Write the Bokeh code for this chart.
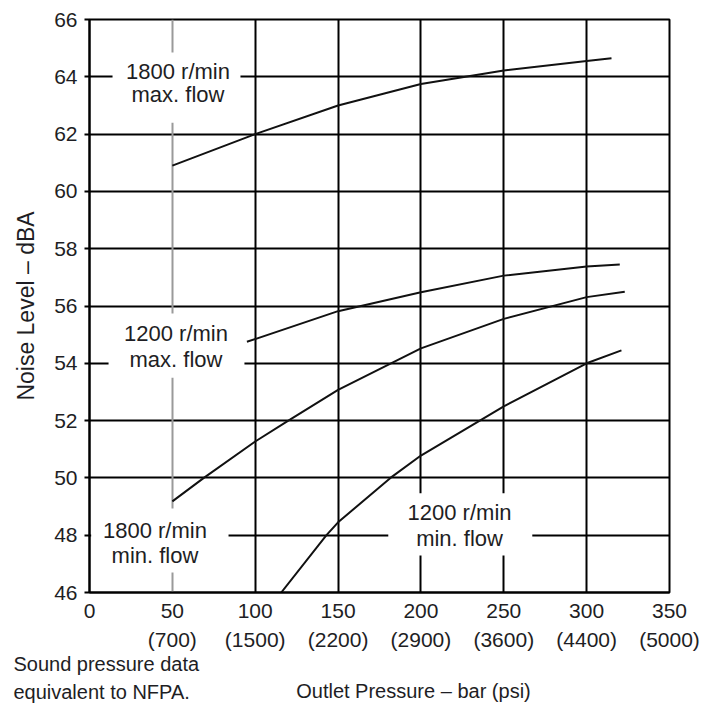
from bokeh.plotting import figure
from bokeh.models import FixedTicker, Grid, Range1d
from bokeh.core.properties import value
from bokeh.embed import file_html
from bokeh.resources import INLINE

# ---------------- data ----------------
bar_ticks = [0, 50, 100, 150, 200, 250, 300, 350]
psi_labels = ["", "(700)", "(1500)", "(2200)", "(2900)", "(3600)", "(4400)", "(5000)"]
dba_ticks = [46, 48, 50, 52, 54, 56, 58, 60, 62, 64, 66]

rpm1800_max_bar = [50, 100, 150, 200, 250, 300, 315]
rpm1800_max_dba = [60.9, 62.0, 63.0, 63.75, 64.22, 64.55, 64.65]

rpm1200_max_bar = [95, 150, 200, 250, 300, 320]
rpm1200_max_dba = [54.75, 55.82, 56.48, 57.06, 57.38, 57.45]

rpm1800_min_bar = [50, 69, 100, 120, 150, 200, 250, 300, 323]
rpm1800_min_dba = [49.18, 50.0, 51.27, 52.0, 53.07, 54.52, 55.55, 56.31, 56.5]

rpm1200_min_bar = [115.7, 143, 150, 181.6, 200, 250, 300, 321]
rpm1200_min_dba = [46.0, 48.0, 48.45, 50.0, 50.78, 52.5, 54.0, 54.45]

curve_labels = [
    ("1800 r/min", "max. flow"),
    ("1200 r/min", "max. flow"),
    ("1800 r/min", "min. flow"),
    ("1200 r/min", "min. flow"),
]
note_lines = ["Sound pressure data", "equivalent to NFPA."]
x_title = "Outlet Pressure – bar (psi)"
y_title = "Noise Level – dBA"

FONT = "Liberation Sans"
TXT = "#1e1e24"

W = 701
LEFT, RIGHT = 89, 669
TOP, BOTTOM = 19, 592
H1 = 653
H2 = 50

p = figure(width=W, height=H1, x_range=(0, 350), y_range=(46, 66),
           output_backend="svg", toolbar_location=None,
           min_border_left=LEFT, min_border_right=W - RIGHT,
           min_border_top=TOP, min_border_bottom=H1 - BOTTOM)
p.background_fill_color = "white"
p.border_fill_color = "white"
p.outline_line_color = "black"
p.outline_line_width = 2

# x axis
p.xaxis.ticker = FixedTicker(ticks=bar_ticks)
p.xaxis.major_label_overrides = {
    t: (str(t) if lab == "" else f"{t}\n{lab}") for t, lab in zip(bar_ticks, psi_labels)
}
p.xaxis.major_tick_out = 0
p.xaxis.major_tick_in = 0
p.xaxis.minor_tick_line_color = None
p.xaxis.axis_line_color = "black"
p.xaxis.axis_line_width = 2
p.xaxis.major_label_standoff = 6
p.xaxis.major_label_text_font = FONT
p.xaxis.major_label_text_font_size = "21px"
p.xaxis.major_label_text_color = TXT
p.xaxis.major_label_text_line_height = 1.28

# y axis
p.yaxis.ticker = FixedTicker(ticks=dba_ticks)
p.yaxis.major_tick_out = 5
p.yaxis.major_tick_in = 0
p.yaxis.major_tick_line_width = 2
p.yaxis.major_tick_line_color = "black"
p.yaxis.minor_tick_line_color = None
p.yaxis.axis_line_color = "black"
p.yaxis.axis_line_width = 2
p.yaxis.major_label_standoff = 7
p.yaxis.major_label_text_font = FONT
p.yaxis.major_label_text_font_size = "21px"
p.yaxis.major_label_text_color = TXT
p.yaxis.axis_label = y_title
p.yaxis.axis_label_text_font = FONT
p.yaxis.axis_label_text_font_size = "23px"
p.yaxis.axis_label_text_font_style = "normal"
p.yaxis.axis_label_text_color = TXT
p.yaxis.axis_label_standoff = 12

# grids
p.xgrid.ticker = FixedTicker(ticks=[t for t in bar_ticks if t != 50])
p.xgrid.grid_line_color = "black"
p.xgrid.grid_line_width = 2
p.ygrid.ticker = FixedTicker(ticks=dba_ticks)
p.ygrid.grid_line_color = "black"
p.ygrid.grid_line_width = 2
g50 = Grid(dimension=0, ticker=FixedTicker(ticks=[50]),
           grid_line_color="#9a9a9a", grid_line_width=2)
p.add_layout(g50)

# white label boxes (hide grid under curve labels)
box_left = [13.9, 11.5, 1.0, 180.3]
box_right = [91.1, 93.5, 83.9, 267.2]
box_bottom = [62.4, 53.5, 46.7, 47.29]
box_top = [64.85, 55.74, 48.93, 49.46]
p.quad(left=box_left, right=box_right, bottom=box_bottom, top=box_top,
       fill_color="white", line_color=None)

# curves
for xs, ys in [(rpm1800_max_bar, rpm1800_max_dba), (rpm1200_max_bar, rpm1200_max_dba),
               (rpm1800_min_bar, rpm1800_min_dba), (rpm1200_min_bar, rpm1200_min_dba)]:
    p.line(xs, ys, line_color="#111111", line_width=2)

# curve label text
lab_x = [53.4, 52.2, 39.5, 223.3]
lab_y1 = [64.19, 55.04, 48.16, 48.80]
lab_y2 = [63.38, 54.13, 47.29, 47.88]
p.text(x=lab_x, y=lab_y1, text=[a for a, b in curve_labels],
       text_font=value(FONT), text_font_size="22px", text_color=TXT,
       text_align="center", text_baseline="middle")
p.text(x=lab_x, y=lab_y2, text=[b for a, b in curve_labels],
       text_font=value(FONT), text_font_size="22px", text_color=TXT,
       text_align="center", text_baseline="middle")

# ---- bottom strip with the note and the x title (same bar scale) ----
S = (RIGHT - LEFT) / 350.0
p2 = figure(width=W, height=H2,
            x_range=Range1d(-LEFT / S, (W - LEFT) / S), y_range=Range1d(0, H2),
            output_backend="svg", toolbar_location=None,
            x_axis_location=None, y_axis_location=None,
            min_border=0, min_border_left=0, min_border_right=0,
            min_border_top=0, min_border_bottom=0)
p2.outline_line_color = None
p2.xgrid.visible = False
p2.ygrid.visible = False
p2.background_fill_color = "white"
p2.border_fill_color = "white"

p2.text(x=[-45.9, -45.9], y=[H2 - 10, H2 - 38], text=note_lines,
        text_font=value(FONT), text_font_size="20px", text_color=TXT,
        text_align="left", text_baseline="middle")
p2.text(x=[195.5], y=[H2 - 37], text=[x_title],
        text_font=value(FONT), text_font_size="20px", text_color=TXT,
        text_align="center", text_baseline="middle")

open("out.html", "w").write(file_html([p, p2], INLINE))
